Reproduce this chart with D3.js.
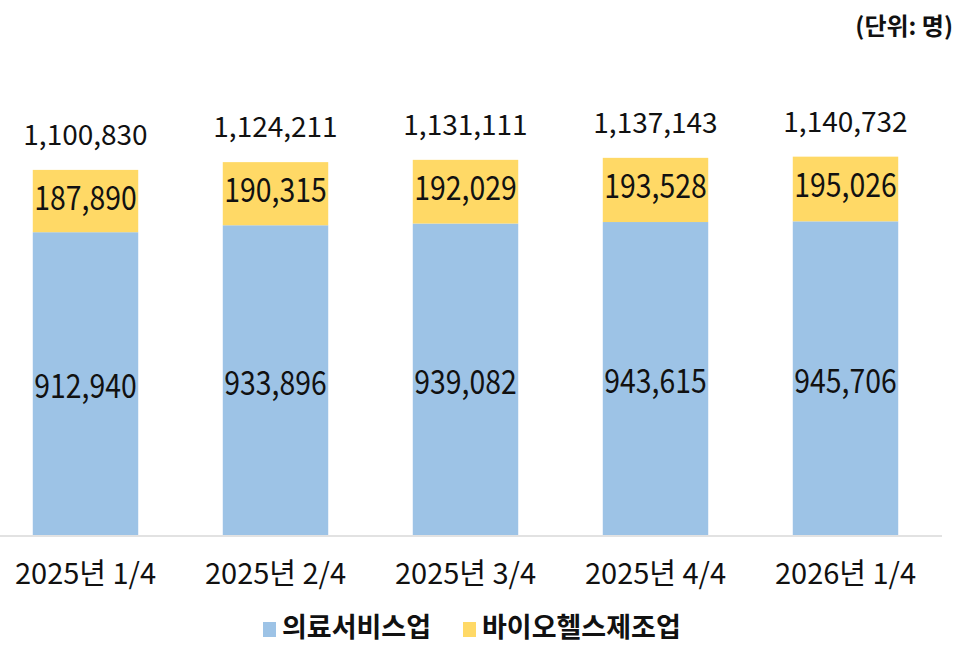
<!DOCTYPE html>
<html>
<head>
<meta charset="utf-8">
<script src="https://cdn.jsdelivr.net/npm/d3@7"></script>
<style>
  body { margin: 0; background: #fff; }
  text { font-family: "Noto Sans CJK KR", "Noto Sans", sans-serif; fill: #111; }
</style>
</head>
<body>
<script>
// data
const categories = ['2025년 1/4', '2025년 2/4', '2025년 3/4', '2025년 4/4', '2026년 1/4'];
const seriesNames = ['의료서비스업', '바이오헬스제조업'];
const medicalService = [912940, 933896, 939082, 943615, 945706];
const bioManufacturing = [187890, 190315, 192029, 193528, 195026];
const totals = [1100830, 1124211, 1131111, 1137143, 1140732];
const unitLabel = '(단위: 명)';

const svgWidth = 964;
const svgHeight = 658;
const colors = ['#9dc3e6', '#ffd966'];

const rows = categories.map((c, i) => ({
    category: c,
    medical: medicalService[i],
    bio: bioManufacturing[i],
    total: totals[i]
}));

const svg = d3.select('body').append('svg')
    .attr('width', svgWidth)
    .attr('height', svgHeight);

const scaleX = d3.scaleBand()
    .domain(categories)
    .range([-9.5, 940.5])
    .paddingInner(0.445)
    .paddingOuter(0.2225);

const scaleY = d3.scaleLinear()
    .domain([0, 1200000])
    .range([535, 137]);

const stack = d3.stack().keys(['medical', 'bio']);
const stacked = stack(rows);

// bars
svg.selectAll('g.series')
    .data(stacked)
    .join('g')
    .attr('class', 'series')
    .attr('fill', (d, i) => colors[i])
    .selectAll('rect')
    .data(d => d)
    .join('rect')
    .attr('x', d => scaleX(d.data.category))
    .attr('width', scaleX.bandwidth())
    .attr('y', d => scaleY(d[1]))
    .attr('height', d => scaleY(d[0]) - scaleY(d[1]));

// baseline
svg.append('line')
    .attr('x1', scaleX.range()[0])
    .attr('x2', 942)
    .attr('y1', scaleY(0) + 1)
    .attr('y2', scaleY(0) + 1)
    .attr('stroke', '#d9d9d9')
    .attr('stroke-width', 1.5);

const fmt = d3.format(',');

// segment labels (slightly condensed like the original font)
stacked.forEach((layer, li) => {
    svg.selectAll('text.seg' + li)
        .data(layer)
        .join('text')
        .attr('class', 'seg' + li)
        .attr('transform', d => {
            const cx = scaleX(d.data.category) + scaleX.bandwidth() / 2;
            const cy = (scaleY(d[0]) + scaleY(d[1])) / 2 - (li === 1 ? 6 : 0);
            return `translate(${cx},${cy}) scale(0.86,1)`;
        })
        .attr('text-anchor', 'middle')
        .attr('dominant-baseline', 'central')
        .style('font-size', '33px')
        .text(d => fmt(d[1] - d[0]));
});

// totals
svg.selectAll('text.total')
    .data(rows)
    .join('text')
    .attr('class', 'total')
    .attr('x', d => scaleX(d.category) + scaleX.bandwidth() / 2)
    .attr('y', d => scaleY(d.total) - 25)
    .attr('text-anchor', 'middle')
    .style('font-size', '28px')
    .text(d => fmt(d.total));

// category labels
svg.selectAll('text.cat')
    .data(categories)
    .join('text')
    .attr('class', 'cat')
    .attr('x', d => scaleX(d) + scaleX.bandwidth() / 2)
    .attr('y', 584)
    .attr('text-anchor', 'middle')
    .style('font-size', '29px')
    .text(d => d);

// unit
svg.append('text')
    .attr('x', 953)
    .attr('y', 35)
    .attr('text-anchor', 'end')
    .style('font-size', '24px')
    .style('font-weight', '600')
    .text(unitLabel);

// legend
const legendX = [263, 463];
const legend = svg.selectAll('g.legend')
    .data(seriesNames)
    .join('g')
    .attr('class', 'legend')
    .attr('transform', (d, i) => `translate(${legendX[i]}, 622)`);

legend.append('rect')
    .attr('width', 13)
    .attr('height', 15)
    .attr('fill', (d, i) => colors[i]);

legend.append('text')
    .attr('x', 19)
    .attr('y', 15)
    .style('font-size', '27px')
    .style('font-weight', '600')
    .text(d => d);
</script>
</body>
</html>
